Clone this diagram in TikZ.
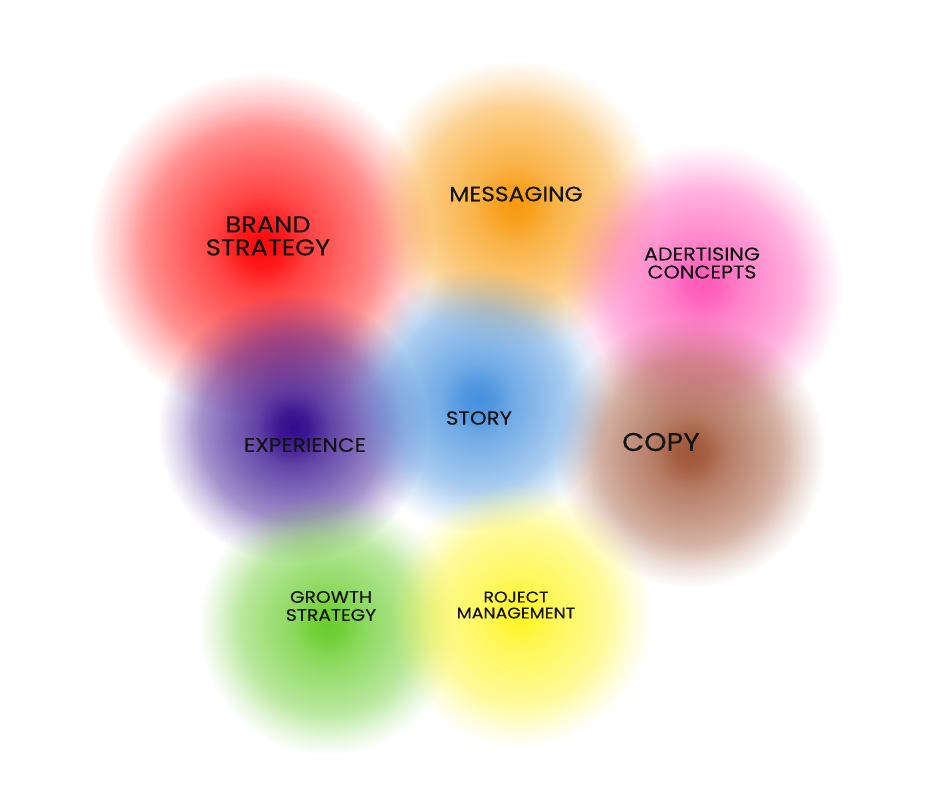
\documentclass[tikz,border=0pt]{standalone}
\usepackage{fontspec}
\setmainfont{Poppins}[FakeStretch=1.12, FakeBold=0.3]
\usetikzlibrary{fadings}

\pgfdeclareradialshading{softdisc}{\pgfpointorigin}{color(0bp)=(pgftransparent!0); color(3bp)=(pgftransparent!6); color(7bp)=(pgftransparent!24); color(12.5bp)=(pgftransparent!40); color(17bp)=(pgftransparent!55); color(21bp)=(pgftransparent!80); color(25bp)=(pgftransparent!100); color(50bp)=(pgftransparent!100)}
\pgfdeclarefading{softdisc}{\pgfuseshading{softdisc}}

\definecolor{brandred}{RGB}{255,8,8}
\definecolor{msgorange}{RGB}{248,155,15}
\definecolor{adpink}{RGB}{255,90,185}
\definecolor{storyblue}{RGB}{70,145,222}
\definecolor{expurple}{RGB}{50,10,140}
\definecolor{copybrown}{RGB}{160,85,55}
\definecolor{growgreen}{RGB}{105,205,45}
\definecolor{projyellow}{RGB}{255,245,40}

\begin{document}
\begin{tikzpicture}[x=1pt, y=-1pt,
  blob/.style={fill=#1, path fading=softdisc},
  tag/.style={align=center, inner sep=0pt, text=black!92}]
  \useasboundingbox (0,0) rectangle (940,788);
  % Nuages de couleur
  \fill[blob=brandred] (262,245) circle (172);
  \fill[blob=msgorange] (515,205) circle (145);
  \fill[blob=adpink] (703,284) circle (140);
  \fill[blob=copybrown] (690,452) circle (135);
  \fill[blob=expurple] (293,428) circle (135);
  \fill[blob=storyblue] (478,400) circle (132);
  \fill[blob=growgreen] (328,625) circle (130);
  \fill[blob=projyellow] (520,615) circle (132);
  % Libellés
  \node[tag, font=\fontsize{23}{23}\selectfont] (brand) at (268,236) {BRAND\\STRATEGY};
  \node[tag, font=\fontsize{20.8}{22}\selectfont] (msg) at (516,194) {MESSAGING};
  \node[tag, font=\fontsize{18.5}{18}\selectfont] (ads) at (702,263) {ADERTISING\\CONCEPTS};
  \node[tag, font=\fontsize{19}{20}\selectfont] (story) at (479,418) {STORY};
  \node[tag, font=\fontsize{19.5}{20}\selectfont] (exp) at (305,445) {EXPERIENCE};
  \node[tag, font=\fontsize{25.5}{26}\selectfont] (copy) at (661,442) {COPY};
  \node[tag, font=\fontsize{16.7}{18}\selectfont] (grow) at (331,606) {GROWTH\\STRATEGY};
  \node[tag, font=\fontsize{15.5}{16}\selectfont] (proj) at (516,605) {ROJECT\\MANAGEMENT};
\end{tikzpicture}
\end{document}
